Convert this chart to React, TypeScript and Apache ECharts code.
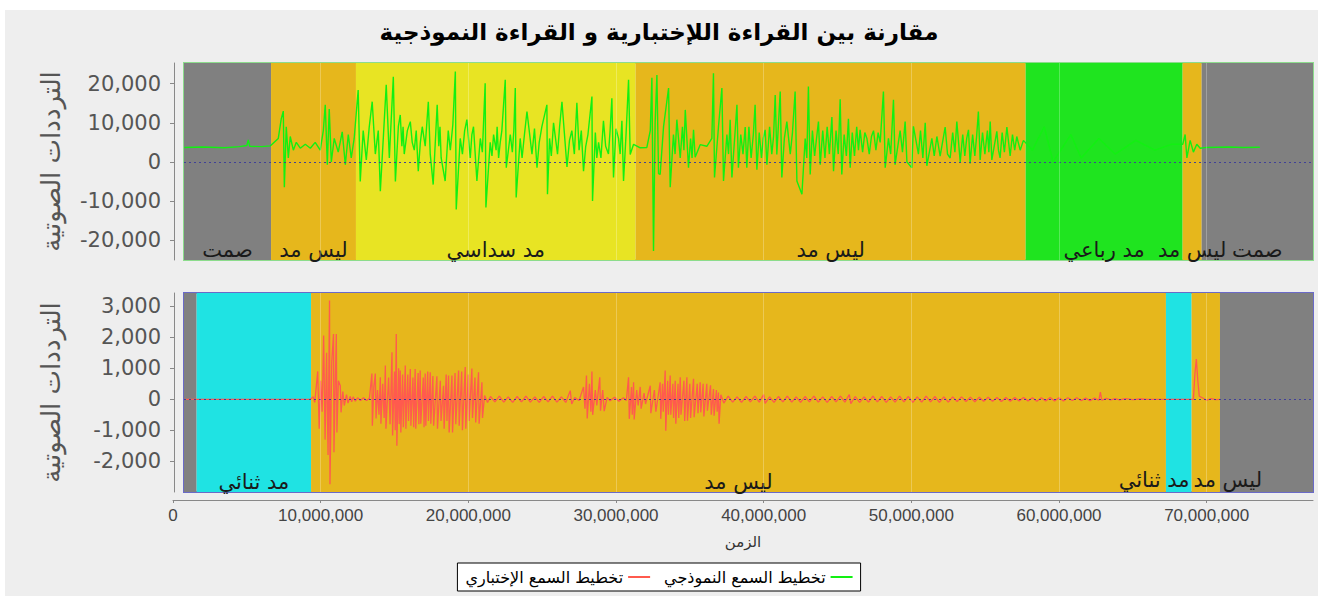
import React, { useEffect, useRef } from "react";
import * as echarts from "echarts";

const titleText = "مقارنة بين القراءة اللإختبارية و القراءة النموذجية";
const yAxisName = "الترددات الصوتية";
const xAxisName = "الزمن";
const testSeriesName = "تخطيط السمع الإختباري";
const modelSeriesName = "تخطيط السمع النموذجي";

const M = 1e6;
const xAxisMax = 77.2; // millions
const plotMin = 0.745; // millions
const gridTicks = [10, 20, 30, 40, 50, 60, 70]; // millions

const bandColors: Record<string, string> = {
  silence: "#808080",
  none: "#e6b71c",
  six: "#e8e423",
  four: "#1fe41f",
  two: "#1fe3e3",
};

const topBandStart = [0.745, 6.64, 12.39, 31.33, 57.74, 68.37, 69.66];
const topBandEnd = [6.64, 12.39, 31.33, 57.74, 68.37, 69.66, 77.2];
const topBandLabel = ["صمت", "ليس مد", "مد سداسي", "ليس مد", "مد رباعي", "ليس مد", "صمت"];
const topBandKind = ["silence", "none", "six", "none", "four", "none", "silence"];
const topBandAlign = ["center", "center", "center", "center", "center", "center", "center"];

const bottomBandStart = [0.745, 1.6, 9.35, 67.24, 68.98, 70.9];
const bottomBandEnd = [1.6, 9.35, 67.24, 68.98, 70.9, 77.2];
const bottomBandLabel = ["", "مد ثنائي", "ليس مد", "مد ثنائي", "ليس مد", ""];
const bottomBandKind = ["silence", "two", "none", "two", "none", "silence"];
const bottomBandAlign = ["center", "center", "center", "right", "left", "center"];

// [time (millions), amplitude]
const modelWave: [number, number][] = [
  [0.77, 3700], [2.0, 3800], [3.5, 3600], [4.5, 3900], [5.0, 4200], [5.1, 5600], [5.2, 4000], [6.0, 3900], [6.6, 4100],
  [7.13, 6000], [7.33, 11000], [7.47, 13000], [7.54, -6500], [7.67, 9000], [7.81, 1000], [7.94, 6500], [8.15, 3000],
  [8.35, 5000], [8.62, 3500], [8.96, 4500], [9.3, 3500], [9.63, 5000], [9.97, 3000], [10.18, 8000], [10.31, 14600],
  [10.45, -700], [10.58, 13500], [10.72, 0], [10.92, 6000], [11.19, 2500], [11.46, 7700], [11.67, -700], [11.87, 7000],
  [12.07, 1000], [12.27, 6000],
  [12.54, 18400], [12.68, -5000], [12.88, 8000], [13.09, 500], [13.29, 9000], [13.49, 15400], [13.7, 2000], [13.9, 8000],
  [14.04, -7500], [14.24, 6000], [14.44, 19700], [14.65, 1000], [14.92, 21800], [15.06, -5000], [15.26, 9000], [15.39, 12000],
  [15.5, 4000], [15.58, 9000], [15.66, 2000], [15.87, 8000], [16.07, 10300], [16.2, 5000], [16.34, 3000], [16.47, 8000],
  [16.61, -2400], [16.75, 5000], [16.88, 9000], [17.08, 4000], [17.29, 15400], [17.42, 2000], [17.62, -5800], [17.89, 14600],
  [18.0, 4000], [18.08, 9000], [18.16, 1000], [18.43, -4900], [18.64, 8000], [18.78, 3000], [18.95, 9500],
  [19.12, 23100], [19.18, -12150], [19.45, 6000], [19.6, 2000], [19.75, 8000], [19.9, 10800], [20.13, 1000], [20.24, 7000],
  [20.35, 9000], [20.58, -4900], [20.81, 6000], [20.95, 2500], [21.14, 20100], [21.19, -11650], [21.48, 5000], [21.6, 1500],
  [21.71, 7000], [21.88, 3000], [21.95, 9000], [22.05, 1000], [22.16, 5000], [22.27, 8000], [22.5, 21000], [22.57, -1500],
  [22.84, 7000], [22.98, 2500], [23.08, 8000], [23.18, 18900], [23.24, -9100], [23.51, 6000], [23.64, 1000], [23.8, 7000],
  [23.97, 12900], [24.31, 2000], [24.48, 8500], [24.65, -1500], [24.8, 5000], [24.98, 9000],
  [25.32, 14600], [25.36, -8300], [25.5, 6000], [25.62, 1500], [25.77, 10000], [26.04, 2000], [26.18, 9000], [26.34, 15400],
  [26.68, -1300], [26.85, 5500], [27.01, 8000], [27.18, 2000], [27.35, 15100], [27.5, 3000], [27.65, 8000],
  [27.8, -2400], [27.95, 4000], [28.1, 7000], [28.37, 16700], [28.41, -10000], [28.6, 7500], [28.7, 1000], [28.82, 5000],
  [28.98, 1000], [29.15, 10500], [29.3, 4000], [29.49, 2000], [29.6, 8000], [29.72, 16300],
  [29.83, -4000], [30.0, 8500], [30.17, 6000], [30.28, 2000], [30.4, 10500], [30.51, -4900], [30.68, 7000], [30.85, 21000],
  [30.96, 1900], [31.19, 4500], [31.64, 3600],
  [32.09, 3700], [32.32, 8000], [32.43, 21500], [32.54, -22800], [32.65, 10000], [32.77, 22200], [32.88, -3000], [32.99, -3200],
  [33.22, 9000], [33.56, 18900], [33.67, -6500], [33.89, 7000], [34.0, 2000], [34.12, 10800], [34.35, 1000], [34.5, 9000],
  [34.6, 3000], [34.69, 13300], [34.91, -1500], [35.05, 6000], [35.15, 1000],
  [35.25, 8200], [35.36, 1200], [35.7, 4400], [36.15, 4000], [36.49, 6000], [36.6, 22700], [36.67, -4000], [36.94, 9000],
  [37.17, 18900], [37.28, -4900], [37.51, 7000], [37.62, 2000], [37.73, 10800], [37.85, -4000], [38.19, 14600], [38.29, -1500],
  [38.45, 7000], [38.6, 2000], [38.75, 8900], [38.86, -1500], [39.0, 9000], [39.15, 1000], [39.3, 7000], [39.42, 14600],
  [39.54, -2000], [39.7, 7500], [39.85, 1000], [39.97, 6000], [40.1, 8200], [40.22, -700], [40.4, 9000], [40.55, 2000],
  [40.67, 6500], [40.78, 17100], [40.89, 1900], [41.12, 18000],
  [41.23, -4000], [41.4, 6000], [41.57, 10300], [41.8, 2000], [41.95, 7500], [42.13, 18000], [42.25, -4900], [42.59, -8300],
  [42.81, 6000], [42.92, 1000], [43.03, 19300],
  [43.15, -3200], [43.3, 8000], [43.45, 1500], [43.58, 6000], [43.71, 10300], [43.83, -700], [44.0, 8000], [44.15, 1000],
  [44.3, 9000], [44.45, 2000], [44.62, 11500], [44.73, -2400], [44.9, 8000], [45.05, 2000], [45.18, 16000], [45.29, -3200],
  [45.45, 7000], [45.6, 1500], [45.74, 11000],
  [45.86, -1500], [46.0, 7500], [46.15, 1500], [46.3, 9000], [46.42, 3000], [46.53, 8200], [46.7, 2500], [46.85, 7500],
  [46.99, 6000], [47.15, 2000], [47.3, 6500], [47.44, 8000], [47.6, 3000], [47.75, 7500], [47.89, 5000], [48.11, 18000],
  [48.23, -1500], [48.45, 6000], [48.6, 2000],
  [48.79, 15900], [48.9, -700], [49.24, 8000], [49.4, 2500], [49.58, 10300], [49.7, 0], [50.03, -1500], [50.14, 9100],
  [50.48, 2000], [50.62, 8000], [50.78, 1000],
  [50.94, 10000], [51.05, -1000], [51.39, 6000], [51.55, 1500], [51.73, 6500], [51.95, 1500], [52.29, 8900], [52.45, 2000],
  [52.63, 1000], [52.8, 7500], [52.95, 2500], [53.08, 10300],
  [53.31, 0], [53.48, 7000], [53.62, 1500], [53.75, 6000], [53.87, 8200], [53.98, -400], [54.15, 7000], [54.3, 1500],
  [54.42, 6500], [54.54, 12900], [54.66, 500], [54.82, 7500], [54.98, 2000], [55.15, 8000], [55.25, 2500], [55.34, 10300],
  [55.45, 500], [55.79, 7800], [55.9, 3000],
  [56.01, 1000], [56.15, 7500], [56.3, 2500], [56.47, 8900], [56.69, 1500], [56.85, 7000], [57.0, 3000], [57.14, 6500],
  [57.37, 3000], [57.59, 5500],
  [58.2, 3000], [59.0, 9000], [59.6, 0], [60.8, 7000], [61.5, 1000], [62.7, 6000], [63.8, 2000], [65.2, 5500], [66.5, 3000],
  [67.6, 4500], [68.38, 4500], [68.54, 7000], [68.66, 1000], [68.88, 5500], [69.1, 2500], [69.33, 4500], [69.56, 3500],
  [70.0, 3700], [71.5, 3800], [72.5, 3700], [73.6, 3750],
];

const testWave: [number, number][] = [
  [0.77, 0], [3, 0], [6, 0], [9.3, 0], [9.5, 80], [9.6, -100], [9.8, 900], [9.9, -950], [10.0, 600], [10.1, -400],
  [10.2, 2060], [10.3, -1300], [10.4, 1500], [10.5, -1800], [10.6, 3190], [10.63, -2740], [10.75, 1200], [10.87, 2110],
  [10.9, -1710], [11.0, 800], [11.06, 2110], [11.1, -1070], [11.2, 600], [11.33, 440], [11.38, -420], [11.5, 250],
  [11.6, -200], [11.75, 150], [11.85, -120], [12.0, 90], [12.1, -80], [12.2, 80], [12.35, -60], [12.5, 50], [12.7, -40],
  [12.9, 50], [13.1, -40], [13.3, 30],
  [13.47, 830], [13.5, -850], [13.6, 400], [13.7, 830], [13.75, -620], [13.85, 300], [13.95, -500], [14.04, 710], [14.08, -790],
  [14.2, 500], [14.3, -600], [14.38, 1090], [14.42, -950], [14.6, 700], [14.7, -800], [14.83, 1520], [14.87, -1170],
  [15.0, 900], [15.05, -1000], [15.12, 2110], [15.16, -1500], [15.28, 1000], [15.32, -800], [15.39, 930], [15.43, -1070],
  [15.55, 800], [15.6, -900], [15.73, 1090], [15.77, -950], [15.9, 800], [15.95, -700], [16.07, 980], [16.11, -850],
  [16.25, 700], [16.3, -900], [16.4, 980], [16.44, -950], [16.6, 850], [16.65, -800], [16.74, 930], [16.78, -790],
  [16.95, 700], [17.0, -900], [17.08, 830], [17.12, -850], [17.25, 900], [17.3, -700], [17.42, 870], [17.46, -790],
  [17.6, 750], [17.65, -850], [17.87, 740], [17.91, -950], [18.1, 600], [18.15, -700], [18.32, 440], [18.36, -950],
  [18.5, 800], [18.55, -700], [18.66, 770], [18.7, -1070], [18.89, 770], [18.93, -1070], [19.1, 850], [19.15, -800],
  [19.34, 930], [19.38, -850], [19.55, 900], [19.6, -1000], [19.79, 1040], [19.83, -950], [20.0, 800], [20.05, -700],
  [20.24, 990], [20.28, -600], [20.45, 700], [20.5, -750], [20.69, 870], [20.73, -790], [20.92, 550], [20.96, -600],
  [21.1, 120], [21.3, -100], [21.5, 90], [21.8, -80], [22.1, 100], [22.4, -90], [22.7, 80], [23.0, -100], [23.3, 90],
  [23.6, -80], [23.9, 100], [24.2, -90], [24.5, 80], [24.8, -100], [25.1, 90], [25.4, -80], [25.7, 100], [26.0, -90],
  [26.3, 80], [26.6, -100], [26.9, 280], [27.0, -150], [27.2, 60], [27.5, -40],
  [27.8, 400], [27.9, -300], [28.0, 770], [28.05, -620], [28.2, 500], [28.3, -400], [28.37, 900], [28.42, -500],
  [28.6, 300], [28.7, -200], [28.9, 710], [28.95, -370], [29.1, 300], [29.2, -380], [29.4, 60], [29.6, -50], [29.9, 70],
  [30.2, -60], [30.5, 50], [30.7, -40],
  [30.85, 710], [30.9, -630], [31.05, 400], [31.1, -500], [31.19, 550], [31.23, -650], [31.4, 300], [31.5, -200],
  [31.64, 400], [31.7, -300], [31.9, 200], [32.0, -150], [32.32, 440], [32.36, -450], [32.6, 300], [32.7, -400],
  [32.99, 550], [33.03, -630], [33.15, 500], [33.2, -400], [33.33, 930], [33.37, -1010], [33.5, 600], [33.55, -500],
  [33.67, 770], [33.71, -500], [33.85, 500], [33.9, -600], [34.01, 600], [34.05, -790], [34.2, 500], [34.25, -600],
  [34.35, 710], [34.4, -500], [34.6, 600], [34.65, -700], [34.8, 710], [34.84, -690], [35.0, 500], [35.05, -600],
  [35.25, 660], [35.29, -580], [35.5, 500], [35.55, -450], [35.7, 550], [35.74, -420], [35.9, 500], [35.95, -550],
  [36.15, 500], [36.19, -370], [36.4, 450], [36.45, -500], [36.6, 330], [36.64, -530], [36.8, 300], [36.85, -400],
  [36.94, 220], [36.98, -790],
  [37.1, 150], [37.3, -120], [37.6, 100], [37.9, -90], [38.2, 80], [38.5, -100], [38.8, 90], [39.1, -80], [39.4, 100],
  [39.7, -90], [40.0, 150], [40.1, -130], [40.4, 80], [40.7, -100], [41.0, 90], [41.3, -80], [41.6, 100], [41.9, -90],
  [42.2, 80], [42.5, -100], [42.8, 90], [43.1, -80], [43.4, 100], [43.7, -90], [44.0, 80], [44.3, -100], [44.6, 90],
  [44.9, -80], [45.2, 100], [45.5, -90], [45.8, 150], [45.9, -140], [46.2, 90], [46.5, -100], [46.8, 80], [47.1, -90],
  [47.4, 100], [47.7, -80], [48.0, 90], [48.3, -100], [48.6, 80], [48.9, -90], [49.2, 100], [49.5, -80], [49.8, 90],
  [50.1, -100], [50.4, 80], [50.7, -90], [51.0, 100], [51.3, -80], [51.6, 90], [51.9, -100], [52.2, 80], [52.5, -90],
  [52.8, 80], [53.1, -70], [53.4, 80], [53.7, -70], [54.0, 70], [54.3, -80], [54.6, 70], [54.9, -60], [55.2, 70],
  [55.5, -60], [55.8, 60], [56.1, -70], [56.4, 60], [56.7, -60], [57.0, 60], [57.3, -50], [57.6, 60], [57.9, -50],
  [58.2, 50], [58.5, -60], [58.8, 50], [59.1, -50], [59.4, 60], [59.7, -50], [60.0, 50], [60.3, -50], [60.6, 50],
  [60.9, -40], [61.2, 50], [61.5, -40], [61.8, 40], [62.1, -40], [62.4, 40], [62.7, -30], [62.8, 230], [62.9, -30],
  [63.2, 30], [63.5, -20], [63.8, 20], [64.1, -20], [64.5, 20], [65.0, -10], [65.5, 10], [66, 0], [67, 0], [68.5, 0],
  [69.1, 0], [69.2, 800], [69.3, 1300], [69.4, 600], [69.5, 100], [69.7, 50], [70.0, -30], [70.3, 20], [70.6, -10], [70.9, 0],
];

const FONT = "DejaVu Sans";

const alignPosition: Record<string, string> = {
  center: "insideBottom",
  left: "insideBottomLeft",
  right: "insideBottomRight",
};

function bandAreas(starts: number[], ends: number[], labels: string[], kinds: string[], aligns: string[]) {
  return starts.map((s, i) => [
    {
      xAxis: s * M,
      name: labels[i],
      itemStyle: { color: bandColors[kinds[i]], opacity: 1 },
      label: { position: alignPosition[aligns[i]], distance: aligns[i] === "center" ? 0 : 2 },
    },
    { xAxis: ends[i] * M },
  ]);
}

function yAxisCfg(gridIndex: number, min: number, max: number, splitNumber: number) {
  return {
    gridIndex,
    type: "value",
    min,
    max,
    splitNumber,
    offset: 10,
    name: yAxisName,
    nameLocation: "middle",
    nameRotate: 90,
    nameGap: 110,
    nameTextStyle: { fontSize: 26, color: "#555", fontFamily: FONT },
    axisLine: { show: true, lineStyle: { color: "#888" } },
    axisTick: { show: true, length: 4, lineStyle: { color: "#888" } },
    axisLabel: { showMinLabel: false, showMaxLabel: false, fontSize: 21, color: "#555", fontFamily: FONT, margin: 13 },
    splitLine: { show: false },
  };
}

function markLines() {
  return {
    silent: true,
    symbol: ["none", "none"],
    label: { show: false },
    data: [
      { yAxis: 0, lineStyle: { type: [2, 3], color: "#404098", width: 1 } },
      ...gridTicks.map((t) => ({ xAxis: t * M, lineStyle: { type: "solid", color: "rgba(255,255,255,0.25)", width: 1 } })),
    ],
  };
}

export default function App() {
  const ref = useRef<HTMLDivElement>(null);
  useEffect(() => {
    if (!ref.current) return;
    const chart = echarts.init(ref.current, null, { renderer: "svg" });
    const bandLabel = {
      show: true,
      position: "insideBottom",
      distance: 0,
      color: "#1a1a1a",
      fontSize: 21,
      fontFamily: FONT,
    };
    const option: any = {
      animation: false,
      backgroundColor: "transparent",
      textStyle: { fontFamily: FONT },
      title: {
        text: titleText,
        left: "center",
        top: 15,
        textStyle: { fontSize: 23, fontWeight: "bold", color: "#000", fontFamily: FONT },
      },
      legend: {
        data: [testSeriesName, modelSeriesName],
        left: "center",
        bottom: 5,
        align: "right",
        icon: "rect",
        itemWidth: 22,
        itemHeight: 2,
        itemGap: 14,
        backgroundColor: "#ffffff",
        borderColor: "#000000",
        borderWidth: 1,
        borderRadius: 0,
        padding: [6, 8],
        textStyle: { fontSize: 16, color: "#000", fontFamily: FONT },
      },
      grid: [
        { left: 184, right: 5, top: 63, height: 197, show: true, borderColor: "#8cdc8c", borderWidth: 2, backgroundColor: "transparent" },
        { left: 184, right: 5, top: 293, height: 199, show: true, borderColor: "#6a6ac8", borderWidth: 2, backgroundColor: "transparent" },
        { left: 173, right: 5, top: 499, height: 1 },
      ],
      xAxis: [
        { gridIndex: 0, type: "value", min: plotMin * M, max: xAxisMax * M, show: false, splitLine: { show: false } },
        { gridIndex: 1, type: "value", min: plotMin * M, max: xAxisMax * M, show: false, splitLine: { show: false } },
        {
          gridIndex: 2,
          type: "value",
          min: 0,
          max: xAxisMax * M,
          interval: 10 * M,
          position: "bottom",
          name: xAxisName,
          nameLocation: "middle",
          nameGap: 34,
          nameTextStyle: { fontSize: 15, color: "#333", fontFamily: FONT },
          axisLine: { show: true, lineStyle: { color: "#888" } },
          axisTick: { show: true, length: 3, lineStyle: { color: "#888" } },
          axisLabel: {
            showMaxLabel: false,
            fontSize: 17,
            color: "#444",
            fontFamily: "'Liberation Sans Narrow', 'Liberation Sans', sans-serif",
            margin: 7,
          },
          splitLine: { show: false },
        },
      ],
      yAxis: [
        yAxisCfg(0, -25100, 25300, 5),
        yAxisCfg(1, -2990, 3430, 6),
        { gridIndex: 2, type: "value", show: false, splitLine: { show: false } },
      ],
      series: [
        {
          name: "bandsTop",
          type: "line",
          xAxisIndex: 0,
          yAxisIndex: 0,
          data: [],
          z: 1,
          silent: true,
          markArea: { silent: true, label: bandLabel, data: bandAreas(topBandStart, topBandEnd, topBandLabel, topBandKind, topBandAlign) },
        },
        {
          name: "bandsBottom",
          type: "line",
          xAxisIndex: 1,
          yAxisIndex: 1,
          data: [],
          z: 1,
          silent: true,
          markArea: {
            silent: true,
            label: bandLabel,
            data: bandAreas(bottomBandStart, bottomBandEnd, bottomBandLabel, bottomBandKind, bottomBandAlign),
          },
        },
        {
          name: modelSeriesName,
          type: "line",
          xAxisIndex: 0,
          yAxisIndex: 0,
          data: modelWave.map(([t, v]) => [t * M, v]),
          showSymbol: false,
          symbol: "none",
          color: "#12f012",
          lineStyle: { color: "#12f012", width: 1.4 },
          z: 3,
          markLine: markLines(),
        },
        {
          name: testSeriesName,
          type: "line",
          xAxisIndex: 1,
          yAxisIndex: 1,
          data: testWave.map(([t, v]) => [t * M, v]),
          showSymbol: false,
          symbol: "none",
          color: "#ff5a4e",
          lineStyle: { color: "#ff5a4e", width: 1.3 },
          z: 3,
          markLine: markLines(),
        },
      ],
    };
    chart.setOption(option);
    return () => chart.dispose();
  }, []);

  return (
    <div style={{ position: "absolute", left: 0, top: 0, width: 1318, height: 596, background: "#ffffff" }}>
      <div style={{ position: "absolute", left: 5, top: 10, width: 1313, height: 586, background: "#eeeeee" }} />
      <div ref={ref} style={{ position: "absolute", left: 0, top: 0, width: 1318, height: 596 }} />
    </div>
  );
}
